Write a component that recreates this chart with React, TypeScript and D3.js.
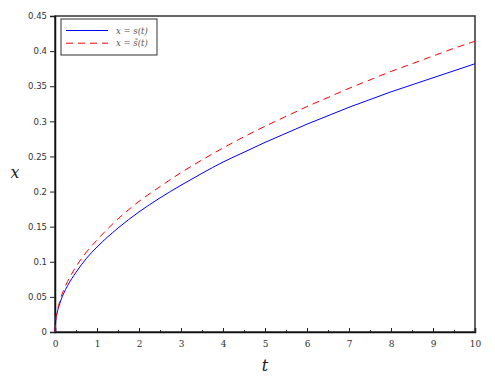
import React, { useEffect, useRef } from "react";
import * as d3 from "d3";

const tValues = [0, 0.02, 0.05, 0.1, 0.2, 0.3, 0.5, 0.75, 1, 1.5, 2, 2.5, 3, 3.5, 4, 4.5, 5, 5.5, 6, 6.5, 7, 7.5, 8, 8.5, 9, 9.5, 10];
const sValues = [0, 0.017, 0.027, 0.038, 0.054, 0.066, 0.085, 0.105, 0.121, 0.148, 0.171, 0.191, 0.209, 0.226, 0.242, 0.256, 0.27, 0.283, 0.296, 0.308, 0.32, 0.331, 0.342, 0.352, 0.362, 0.372, 0.382];
const sTildeValues = [0, 0.019, 0.029, 0.041, 0.059, 0.072, 0.093, 0.114, 0.131, 0.161, 0.186, 0.207, 0.227, 0.245, 0.262, 0.278, 0.293, 0.307, 0.321, 0.334, 0.347, 0.359, 0.371, 0.382, 0.393, 0.404, 0.414];
const xTicks = [0, 1, 2, 3, 4, 5, 6, 7, 8, 9, 10];
const xMinorTicks = [0.5, 1.5, 2.5, 3.5, 4.5, 5.5, 6.5, 7.5, 8.5, 9.5];
const yTicks = [0, 0.05, 0.1, 0.15, 0.2, 0.25, 0.3, 0.35, 0.4, 0.45];
const legendLabels = ["x = s(t)", "x = s\u0303(t)"];

export default function App() {
  const svgRef = useRef<SVGSVGElement>(null);
  const width = 495;
  const height = 378;

  useEffect(() => {
    const svg = d3.select(svgRef.current);
    svg.selectAll("*").remove();

    const margin = { top: 16, right: 20, bottom: 46, left: 55 };
    const innerWidth = width - margin.left - margin.right;
    const innerHeight = height - margin.top - margin.bottom;

    const xScale = d3.scaleLinear().domain([0, 10]).range([0, innerWidth]);
    const yScale = d3.scaleLinear().domain([0, 0.45]).range([innerHeight, 0]);

    const g = svg
      .append("g")
      .attr("transform", `translate(${margin.left},${margin.top})`);

    // frame
    g.append("rect")
      .attr("x", 0)
      .attr("y", 0)
      .attr("width", innerWidth)
      .attr("height", innerHeight)
      .attr("fill", "none")
      .attr("stroke", "#333")
      .attr("stroke-width", 1.5);

    // y axis, ticks pointing out
    const yAxis = d3
      .axisLeft(yScale)
      .tickValues(yTicks)
      .tickFormat((d) => d3.format("")(+(d as number).toFixed(2)))
      .tickSize(5)
      .tickPadding(3);
    const yg = g.append("g").call(yAxis);
    yg.select(".domain").attr("stroke", "#111").attr("stroke-width", 1.5);
    yg.selectAll(".tick line").attr("stroke", "#222");
    yg.selectAll(".tick text")
      .attr("font-family", "DejaVu Sans, sans-serif")
      .attr("font-size", 8.5)
      .attr("fill", "#333");

    // x axis, ticks pointing in
    const xAxis = d3
      .axisBottom(xScale)
      .tickValues(xTicks)
      .tickSize(-4)
      .tickPadding(9);
    const xg = g.append("g").attr("transform", `translate(0,${innerHeight})`).call(xAxis);
    xg.select(".domain").attr("stroke", "#111").attr("stroke-width", 1.5);
    xg.selectAll(".tick line").attr("stroke", "#222");
    xg.selectAll(".tick text")
      .attr("font-family", "DejaVu Serif, serif")
      .attr("font-size", 9)
      .attr("fill", "#333");

    const xMinor = d3.axisBottom(xScale).tickValues(xMinorTicks).tickSize(-2).tickFormat(() => "");
    const xmg = g.append("g").attr("transform", `translate(0,${innerHeight})`).call(xMinor);
    xmg.select(".domain").remove();
    xmg.selectAll(".tick line").attr("stroke", "#222");

    const points = tValues.map((t, i) => ({ t, s: sValues[i], st: sTildeValues[i] }));

    const lineS = d3
      .line<{ t: number; s: number; st: number }>()
      .x((d) => xScale(d.t))
      .y((d) => yScale(d.s))
      .curve(d3.curveMonotoneX);
    const lineSt = d3
      .line<{ t: number; s: number; st: number }>()
      .x((d) => xScale(d.t))
      .y((d) => yScale(d.st))
      .curve(d3.curveMonotoneX);

    g.append("path")
      .datum(points)
      .attr("fill", "none")
      .attr("stroke", "#0000ff")
      .attr("stroke-width", 1)
      .attr("d", lineS);

    g.append("path")
      .datum(points)
      .attr("fill", "none")
      .attr("stroke", "#ff0000")
      .attr("stroke-width", 1)
      .attr("stroke-dasharray", "7,5")
      .attr("d", lineSt);

    // axis labels
    svg.append("text")
      .attr("x", margin.left + innerWidth / 2)
      .attr("y", 371)
      .attr("text-anchor", "middle")
      .attr("font-family", "DejaVu Serif, serif")
      .attr("font-style", "italic")
      .attr("font-size", 16)
      .attr("fill", "#222")
      .text("t");

    svg.append("text")
      .attr("x", 15)
      .attr("y", margin.top + innerHeight / 2 + 4)
      .attr("text-anchor", "middle")
      .attr("font-family", "DejaVu Serif, serif")
      .attr("font-style", "italic")
      .attr("font-size", 16)
      .attr("fill", "#222")
      .text("x");

    // legend
    const lg = g.append("g").attr("transform", "translate(6,3)");
    lg.append("rect")
      .attr("width", 96)
      .attr("height", 36)
      .attr("fill", "white")
      .attr("stroke", "#333")
      .attr("stroke-width", 1);
    const colors = ["#0000ff", "#ff0000"];
    const dashes = ["none", "7,5"];
    legendLabels.forEach((label, i) => {
      const y = 11.5 + i * 12.7;
      lg.append("line")
        .attr("x1", 5)
        .attr("x2", 47)
        .attr("y1", y)
        .attr("y2", y)
        .attr("stroke", colors[i])
        .attr("stroke-width", 1)
        .attr("stroke-dasharray", dashes[i]);
      lg.append("text")
        .attr("x", 55)
        .attr("y", y + 3)
        .attr("font-family", "DejaVu Serif, serif")
        .attr("font-style", "italic")
        .attr("font-size", 8.5)
        .attr("fill", "#555")
        .text(label);
    });
  }, []);

  return (
    <svg
      ref={svgRef}
      width={width}
      height={height}
      style={{ position: "absolute", left: 0, top: 0, background: "white" }}
    />
  );
}
